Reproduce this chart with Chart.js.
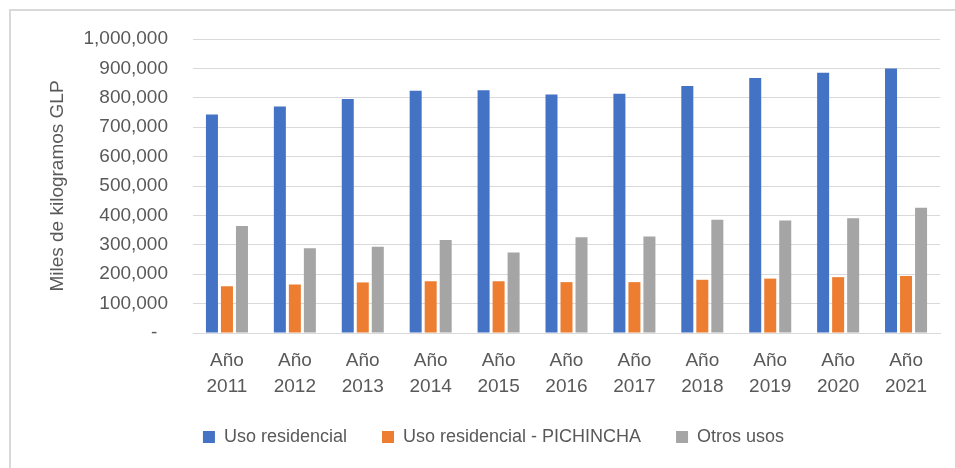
<!DOCTYPE html>
<html>
<head>
<meta charset="utf-8">
<script src="https://cdn.jsdelivr.net/npm/chart.js@4"></script>
<style>
  html, body { margin: 0; padding: 0; background: #ffffff; }
  #wrap { width: 955px; height: 468px; }
</style>
</head>
<body>
<div id="wrap"><canvas id="glp" width="955" height="468"></canvas></div>
<script>
// Consumo de GLP por tipo de uso (miles de kilogramos)
const years = ['2011', '2012', '2013', '2014', '2015', '2016', '2017', '2018', '2019', '2020', '2021'];
const categories = years.map(y => ['Año', y]);

const usoResidencial = [743000, 770000, 796000, 824000, 826000, 811000, 814000, 840000, 867000, 885000, 900000];
const usoPichincha   = [159000, 165000, 172000, 176000, 176000, 173000, 173000, 181000, 185000, 190000, 194000];
const otrosUsos      = [364000, 288000, 293000, 316000, 274000, 326000, 328000, 385000, 383000, 390000, 426000];

const seriesNames = ['Uso residencial', 'Uso residencial - PICHINCHA', 'Otros usos'];
const axisTitle = 'Miles de kilogramos GLP';

const textColor = '#595959';
const gridColor = '#d9d9d9';
const fontFamily = '"Liberation Sans", Arial, sans-serif';

// white background plus the light frame on the top and left edges
const framePlugin = {
  id: 'frame',
  beforeDraw(chart) {
    const ctx = chart.ctx;
    ctx.save();
    ctx.fillStyle = '#ffffff';
    ctx.fillRect(0, 0, chart.width, chart.height);
    ctx.strokeStyle = gridColor;
    ctx.lineWidth = 2;
    ctx.beginPath();
    ctx.moveTo(10, chart.height);
    ctx.lineTo(10, 10);
    ctx.lineTo(chart.width, 10);
    ctx.stroke();
    ctx.restore();
  }
};

new Chart(document.getElementById('glp'), {
  type: 'bar',
  data: {
    labels: categories,
    datasets: [
      { label: seriesNames[0], data: usoResidencial, backgroundColor: '#4472C4' },
      { label: seriesNames[1], data: usoPichincha,   backgroundColor: '#ED7D31' },
      { label: seriesNames[2], data: otrosUsos,      backgroundColor: '#A5A5A5' }
    ]
  },
  options: {
    responsive: false,
    devicePixelRatio: 1,
    animation: false,
    layout: { padding: { left: 47, right: 15, top: 39, bottom: 12 } },
    datasets: {
      bar: { categoryPercentage: 0.663, barPercentage: 0.8, borderWidth: 0 }
    },
    plugins: {
      legend: {
        position: 'bottom',
        labels: {
          color: textColor,
          font: { family: fontFamily, size: 18 },
          boxWidth: 12,
          boxHeight: 12,
          padding: 35
        }
      },
      tooltip: { enabled: false }
    },
    scales: {
      x: {
        grid: { display: false, drawTicks: false },
        border: { display: true, color: gridColor, width: 1 },
        ticks: {
          color: textColor,
          font: { family: fontFamily, size: 19, lineHeight: 1.37 },
          padding: 15,
          maxRotation: 0,
          autoSkip: false
        },
        afterFit(scale) { scale.height = 60; }
      },
      y: {
        min: 0,
        max: 1000000,
        grid: { color: gridColor, lineWidth: 1, drawTicks: false },
        border: { display: false },
        ticks: {
          stepSize: 100000,
          color: textColor,
          font: { family: fontFamily, size: 19 },
          padding: 25,
          callback: v => v === 0 ? '-  ' : Number(v).toLocaleString('en-US')
        },
        title: {
          display: true,
          text: axisTitle,
          color: textColor,
          font: { family: fontFamily, size: 19, lineHeight: 1 },
          padding: { top: 1, bottom: 0 }
        },
        afterFit(scale) { scale.width = 146; }
      }
    }
  },
  plugins: [framePlugin]
});
</script>
</body>
</html>
